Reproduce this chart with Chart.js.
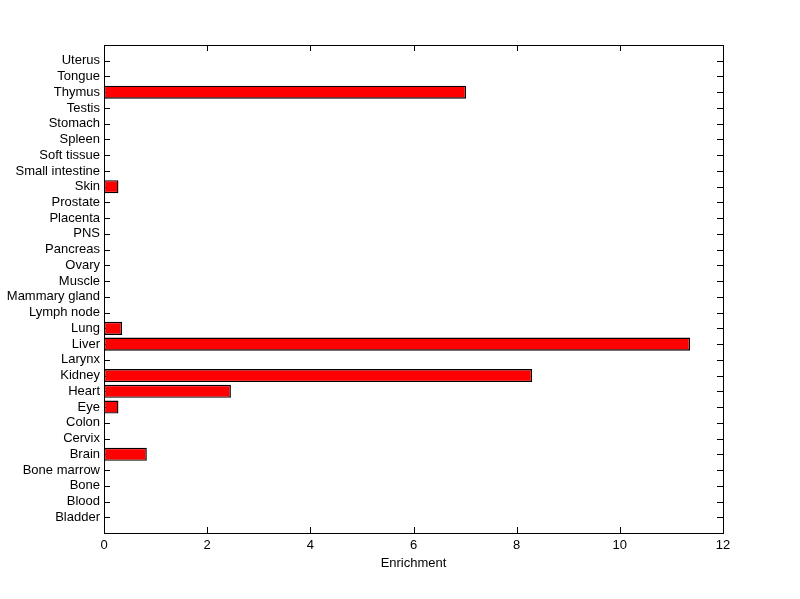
<!DOCTYPE html>
<html>
<head>
<meta charset="utf-8">
<script src="https://cdn.jsdelivr.net/npm/chart.js@4"></script>
<style>
  html, body { margin: 0; padding: 0; background: #fff; }
  #wrap { width: 800px; height: 599px; }
</style>
</head>
<body>
<div id="wrap"><canvas id="bar-chart" width="800" height="599"></canvas></div>
<script>
// categories, bottom to top
const tissues = ["Bladder", "Blood", "Bone", "Bone marrow", "Brain", "Cervix", "Colon", "Eye",
  "Heart", "Kidney", "Larynx", "Liver", "Lung", "Lymph node", "Mammary gland", "Muscle",
  "Ovary", "Pancreas", "PNS", "Placenta", "Prostate", "Skin", "Small intestine",
  "Soft tissue", "Spleen", "Stomach", "Testis", "Thymus", "Tongue", "Uterus"];
const enrichment = [0, 0, 0, 0, 0.83, 0, 0, 0.28,
  2.46, 8.3, 0, 11.36, 0.35, 0, 0, 0,
  0, 0, 0, 0, 0, 0.28, 0,
  0, 0, 0, 0, 7.02, 0, 0];
const xTicks = [0, 2, 4, 6, 8, 10, 12];

const points = tissues.map((t, i) => ({ x: enrichment[i], y: i + 1 }));
const font = { family: "Liberation Sans, Arial, sans-serif", size: 13 };

// inward tick marks + frame, matlab style
const frameTicks = {
  id: "frameTicks",
  beforeDatasetsDraw(chart) {
    const { ctx, chartArea: a, scales } = chart;
    ctx.save();
    ctx.strokeStyle = "#000";
    ctx.lineWidth = 1;
    ctx.beginPath();
    const len = 6;
    tissues.forEach((t, i) => {
      const y = Math.round(scales.y.getPixelForValue(i + 1)) + 0.5;
      ctx.moveTo(a.left, y); ctx.lineTo(a.left + len, y);
      ctx.moveTo(a.right, y); ctx.lineTo(a.right - len, y);
    });
    xTicks.forEach(v => {
      const x = Math.round(scales.x.getPixelForValue(v)) + 0.5;
      ctx.moveTo(x, a.bottom); ctx.lineTo(x, a.bottom - len);
      ctx.moveTo(x, a.top); ctx.lineTo(x, a.top + len);
    });
    ctx.stroke();
    ctx.restore();
  },
  afterDraw(chart) {
    const { ctx, chartArea: a } = chart;
    ctx.save();
    ctx.strokeStyle = "#000";
    ctx.lineWidth = 1;
    ctx.strokeRect(Math.round(a.left) + 0.5, Math.round(a.top) + 0.5,
      Math.round(a.right - a.left), Math.round(a.bottom - a.top));
    ctx.restore();
  }
};

new Chart("bar-chart", {
  type: "bar",
  data: {
    datasets: [{
      label: "Enrichment",
      data: points,
      backgroundColor: "#ff0000",
      borderColor: "#000",
      borderWidth: 1.4,
      borderSkipped: false,
      categoryPercentage: 1,
      barPercentage: 0.83,
    }],
  },
  options: {
    indexAxis: "y",
    responsive: false,
    animation: false,
    layout: { padding: { top: 45, right: 77, left: 0, bottom: 0 } },
    plugins: { legend: { display: false }, tooltip: { enabled: false } },
    scales: {
      y: {
        type: "linear",
        min: 0,
        max: 31,
        offset: false,
        afterBuildTicks: (s) => { s.ticks = tissues.map((t, i) => ({ value: i + 1 })); },
        afterFit: (s) => { s.width = 104; },
        grid: { display: false, drawTicks: false },
        border: { display: false },
        ticks: {
          color: "#000",
          padding: 4,
          autoSkip: false,
          font: font,
          callback: (v) => tissues[v - 1],
        },
      },
      x: {
        type: "linear",
        min: 0,
        max: 12,
        afterBuildTicks: (s) => { s.ticks = xTicks.map(v => ({ value: v })); },
        afterFit: (s) => { s.height = 66; },
        grid: { display: false, drawTicks: false },
        border: { display: false },
        ticks: {
          color: "#000",
          padding: 5,
          font: font,
        },
        title: {
          display: true,
          text: "Enrichment",
          color: "#000",
          padding: { top: 4, bottom: 28 },
          font: font,
        },
      },
    },
  },
  plugins: [frameTicks],
});
</script>
</body>
</html>
